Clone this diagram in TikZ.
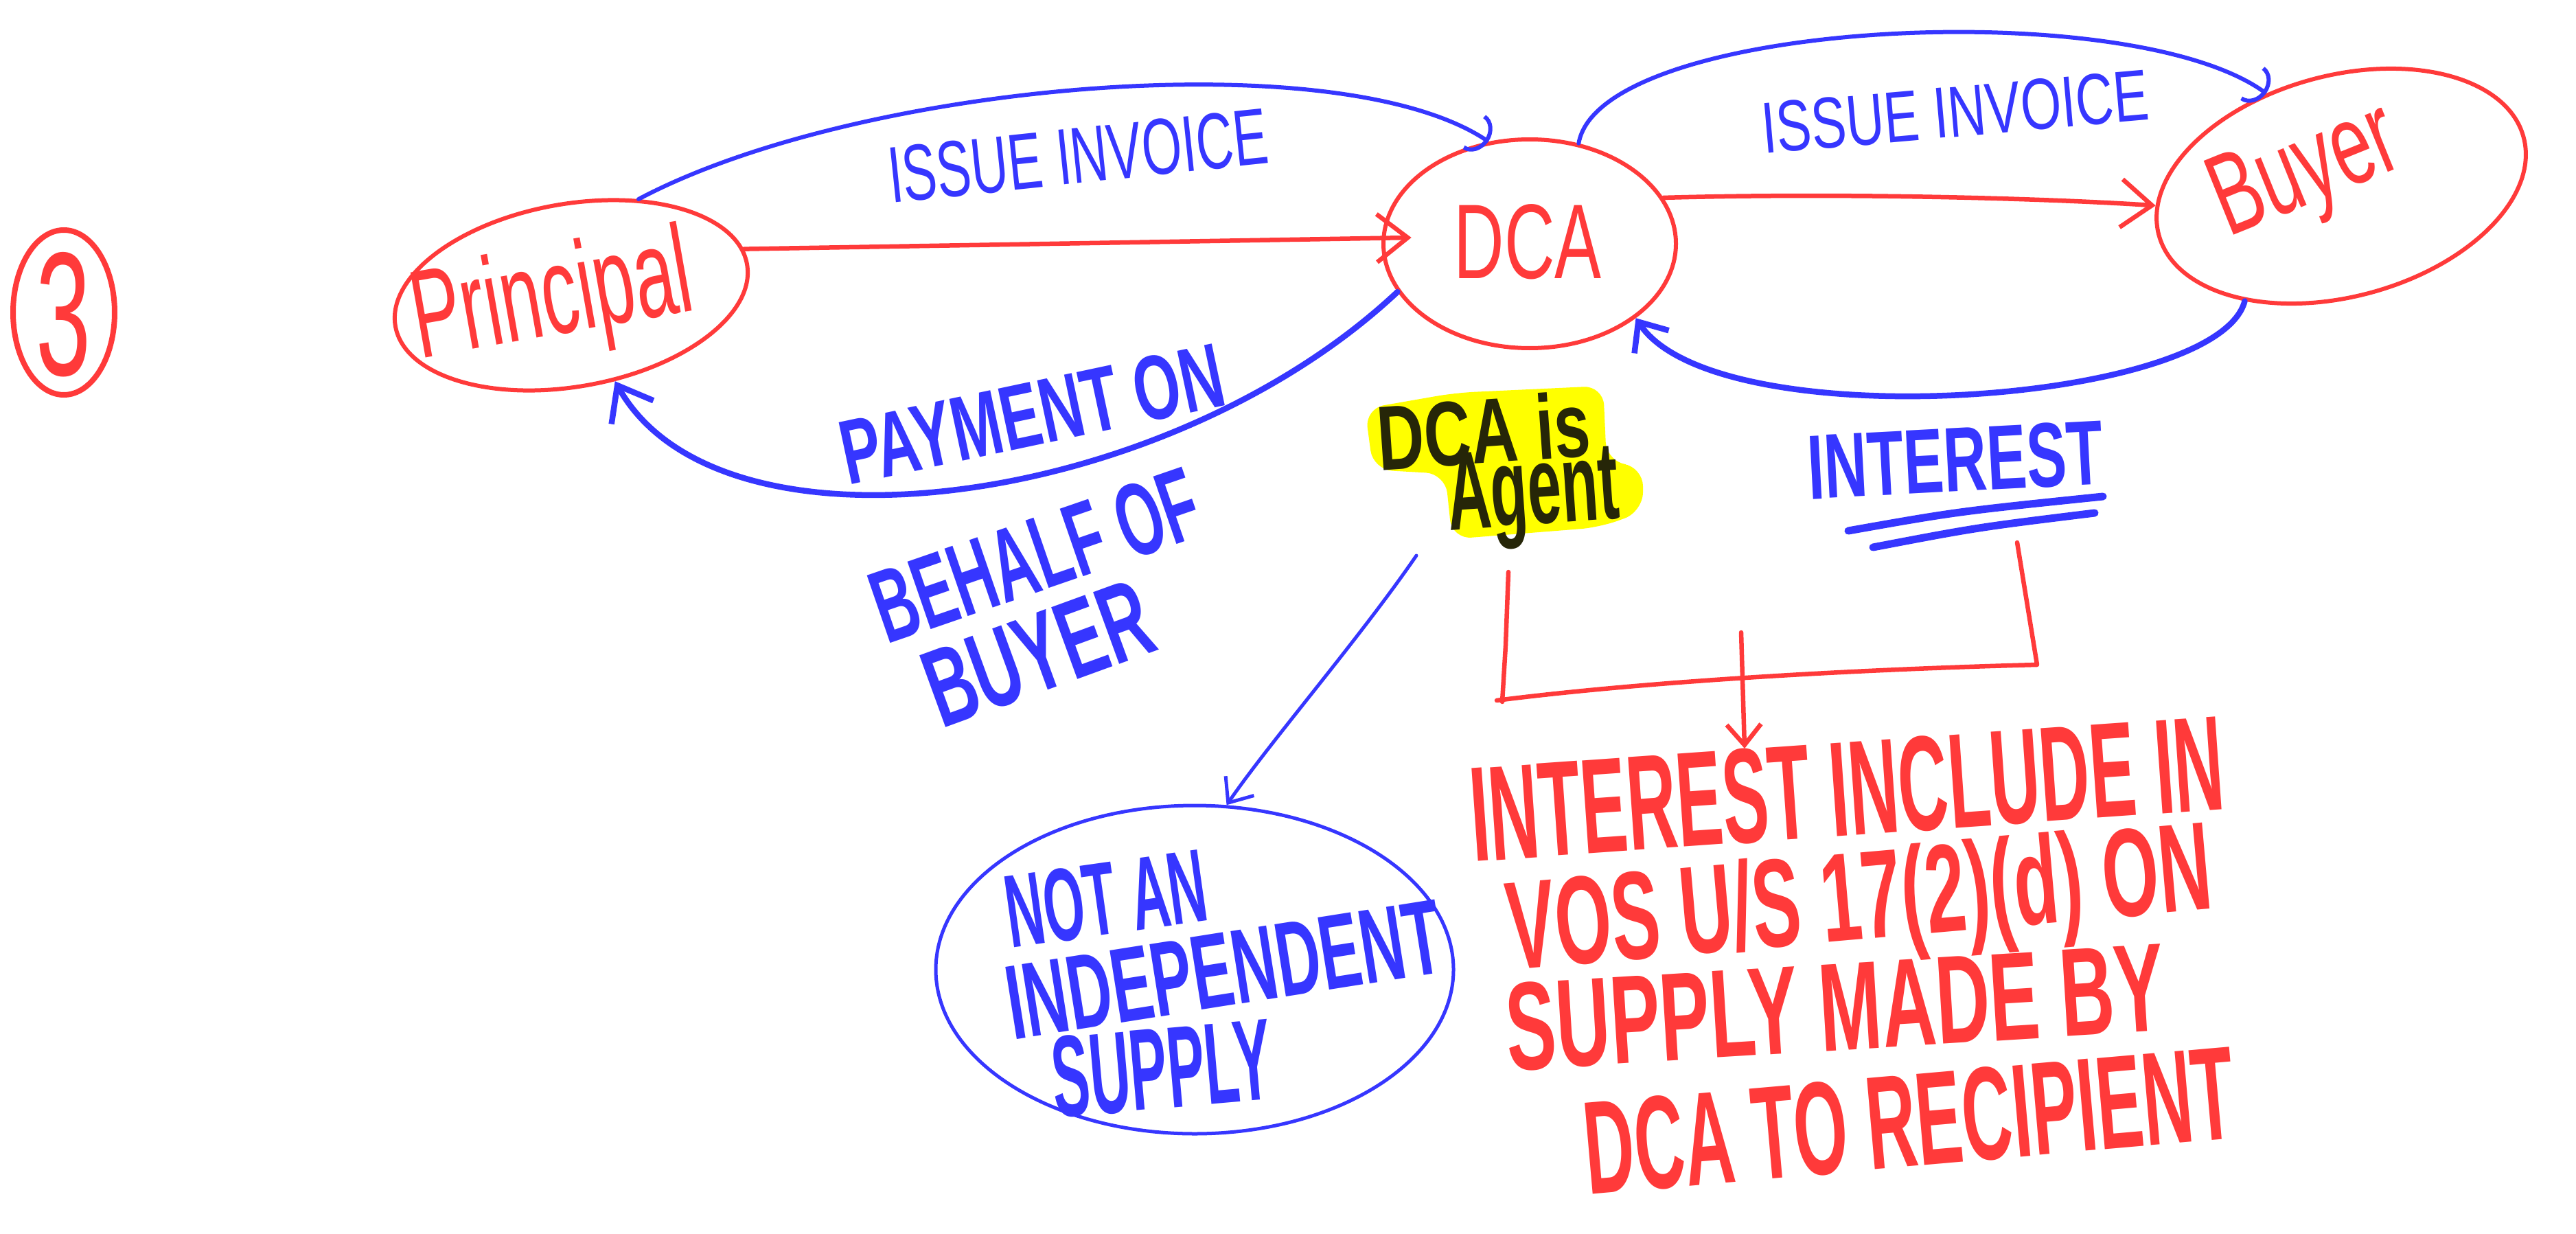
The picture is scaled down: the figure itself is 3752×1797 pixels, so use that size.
\documentclass[tikz,border=0pt]{standalone}
\usepackage{fontspec}
\usepackage{graphicx}
\setmainfont{Liberation Sans}
\usetikzlibrary{arrows.meta,calc,shapes.geometric}

\definecolor{inkred}{RGB}{255,58,58}
\definecolor{inkblue}{RGB}{54,54,255}
\definecolor{hilite}{RGB}{255,255,0}
\definecolor{inkdark}{RGB}{38,38,8}

% pen-style lettering: fixed size, squeezed to a given width
\newcommand\penfont[1]{\fontsize{#1}{#1}\selectfont}
\newcommand\fitw[2]{\resizebox{#1}{\height}{#2}}

\tikzset{
  redloop/.style={draw=inkred, line width=0.6mm, ellipse, inner sep=0pt},
  blueloop/.style={draw=inkblue, line width=0.5mm, ellipse, inner sep=0pt},
  redtext/.style={inner sep=0pt, text=inkred, font=\bfseries\penfont{#1}},
  redthin/.style={inner sep=0pt, text=inkred, font=\penfont{#1}},
  bluetext/.style={inner sep=0pt, text=inkblue, font=\bfseries\penfont{#1}},
  bluethin/.style={inner sep=0pt, text=inkblue, font=\penfont{#1}},
  darktext/.style={inner sep=0pt, text=inkdark, font=\bfseries\penfont{#1}},
  redpen/.style={draw=inkred, line width=0.65mm, line cap=round, line join=round},
  bluepen/.style={draw=inkblue, line width=0.8mm, line cap=round, line join=round},
  bigtip/.style={-{Straight Barb[length=4.5mm,width=7mm]}},
  midtip/.style={-{Straight Barb[length=3.5mm,width=6mm]}},
  smalltip/.style={-{Straight Barb[length=3mm,width=5mm]}},
  hooktip/.style={-{Arc Barb[length=2.5mm,width=6mm]}},
}

\begin{document}
\begin{tikzpicture}[x=0.1mm,y=-0.1mm]
\useasboundingbox (0,0) rectangle (3752,1797);
\fill[white] (0,0) rectangle (3752,1797);

% ---- loops ----
\node[redloop, line width=0.8mm, minimum width=14.8mm, minimum height=24mm] (num) at (93,455) {};
\node[redloop, minimum width=52mm, minimum height=26.6mm, rotate=10] (prin) at (832,430) {};
\node[redloop, minimum width=42.6mm, minimum height=30.4mm] (dca) at (2228,355) {};
\node[redloop, minimum width=55mm, minimum height=32.2mm, rotate=15] (buy) at (3410,271) {};
\node[blueloop, minimum width=75.4mm, minimum height=47.8mm] (sup) at (1740,1412) {};

% ---- names in the loops ----
\node[redthin=73pt] (numT) at (93,458) {\fitw{8mm}{3}};
\node[redthin=52pt, rotate=10] (prinT) at (805,440) {\fitw{41mm}{Principal}};
\node[redthin=44pt] (dcaT) at (2225,352) {\fitw{21.5mm}{DCA}};
\node[redthin=48pt, rotate=22] (buyT) at (3360,255) {\fitw{28mm}{Buyer}};

% ---- highlighted note ----
\fill[hilite, rounded corners=8] (1988,595) -- (2120,572) -- (2335,562) -- (2340,672)
  -- (2393,680) -- (2393,745) -- (2330,768) -- (2115,785) -- (2105,690) -- (2000,684) -- cycle;
\node[darktext=38pt, rotate=4] (agentA) at (2161,627) {\fitw{31mm}{DCA is}};
\node[darktext=46pt, rotate=4] (agentB) at (2233,725) {\fitw{25mm}{Agent}};

% ---- blue labels ----
\node[bluethin=33pt, rotate=6] (inv1) at (1570,227) {\fitw{55.5mm}{ISSUE INVOICE}};
\node[bluethin=30pt, rotate=5] (inv2) at (2848,163) {\fitw{56.5mm}{ISSUE INVOICE}};
\node[bluetext=38pt, rotate=12] (pay1) at (1503,603) {\fitw{56.7mm}{PAYMENT ON}};
\node[bluetext=43pt, rotate=19] (pay2) at (1508,809) {\fitw{49.4mm}{BEHALF OF}};
\node[bluetext=46pt, rotate=20] (pay3) at (1512,952) {\fitw{34mm}{BUYER}};
\node[bluetext=38pt, rotate=3] (intr) at (2848,670) {\fitw{43mm}{INTEREST}};
\node[bluetext=43pt, rotate=8] (sup1) at (1611,1309) {\fitw{29.4mm}{NOT AN}};
\node[bluetext=44pt, rotate=9] (sup2) at (1783,1412) {\fitw{64mm}{INDEPENDENT}};
\node[bluetext=48pt, rotate=5] (sup3) at (1692,1556) {\fitw{32mm}{SUPPLY}};

% ---- red note ----
\node[redtext=56pt, rotate=4] (r1) at (2690,1149) {\fitw{110mm}{INTEREST INCLUDE IN}};
\node[redtext=52pt, rotate=5] (r2) at (2709,1321) {\fitw{103mm}{VOS U/S 17(2)(d) ON}};
\node[redtext=52pt, rotate=3.5] (r3) at (2673,1467) {\fitw{96mm}{SUPPLY MADE BY}};
\node[redtext=55pt, rotate=5] (r4) at (2781,1632) {\fitw{95mm}{DCA TO RECIPIENT}};

% ---- flows between parties ----
\draw[redpen, bigtip] (prin.5) -- ($(dca.center)!0.8!(dca.177)$);
\draw[redpen, bigtip] (dca.19) .. controls (2700,280) and (3000,290) .. (buy.171);
\draw[bluepen, line width=0.6mm, hooktip] (prin.45) .. controls (1250,120) and (1950,60) .. (dca.112);
\draw[bluepen, line width=0.6mm, hooktip] (dca.64) .. controls (2330,30) and (3100,-10) .. (buy.114);
\draw[bluepen, line width=0.85mm, midtip] (buy.215) .. controls (3230,590) and (2500,640) .. (dca.-35);
\draw[bluepen, line width=0.85mm, bigtip] (dca.200) .. controls (1700,740) and (1050,830) .. (prin.287);

% ---- note to supply ----
\coordinate (agentfoot) at (2063,809);
\draw[bluepen, line width=0.5mm, smalltip] (agentfoot) .. controls (1980,930) and (1850,1080) .. (sup.79);

% ---- double underline of INTEREST ----
\draw[bluepen, line width=1.1mm] (2692,773) .. controls (2850,745) .. (3063,723);
\draw[bluepen, line width=1.1mm] (2728,797) .. controls (2880,768) .. (3051,747);

% ---- bracket joining the note and interest ----
\draw[redpen] (2197,833) -- (2193,940) -- (2188,1022);
\draw[redpen] (2180,1020) .. controls (2400,992) and (2700,975) .. (2967,968) -- (2938,790);
\coordinate (brkMid) at (2536,921);
\coordinate (redIn) at (2541,1090);
\draw[redpen, smalltip] (brkMid) -- (redIn);
\end{tikzpicture}
\end{document}
